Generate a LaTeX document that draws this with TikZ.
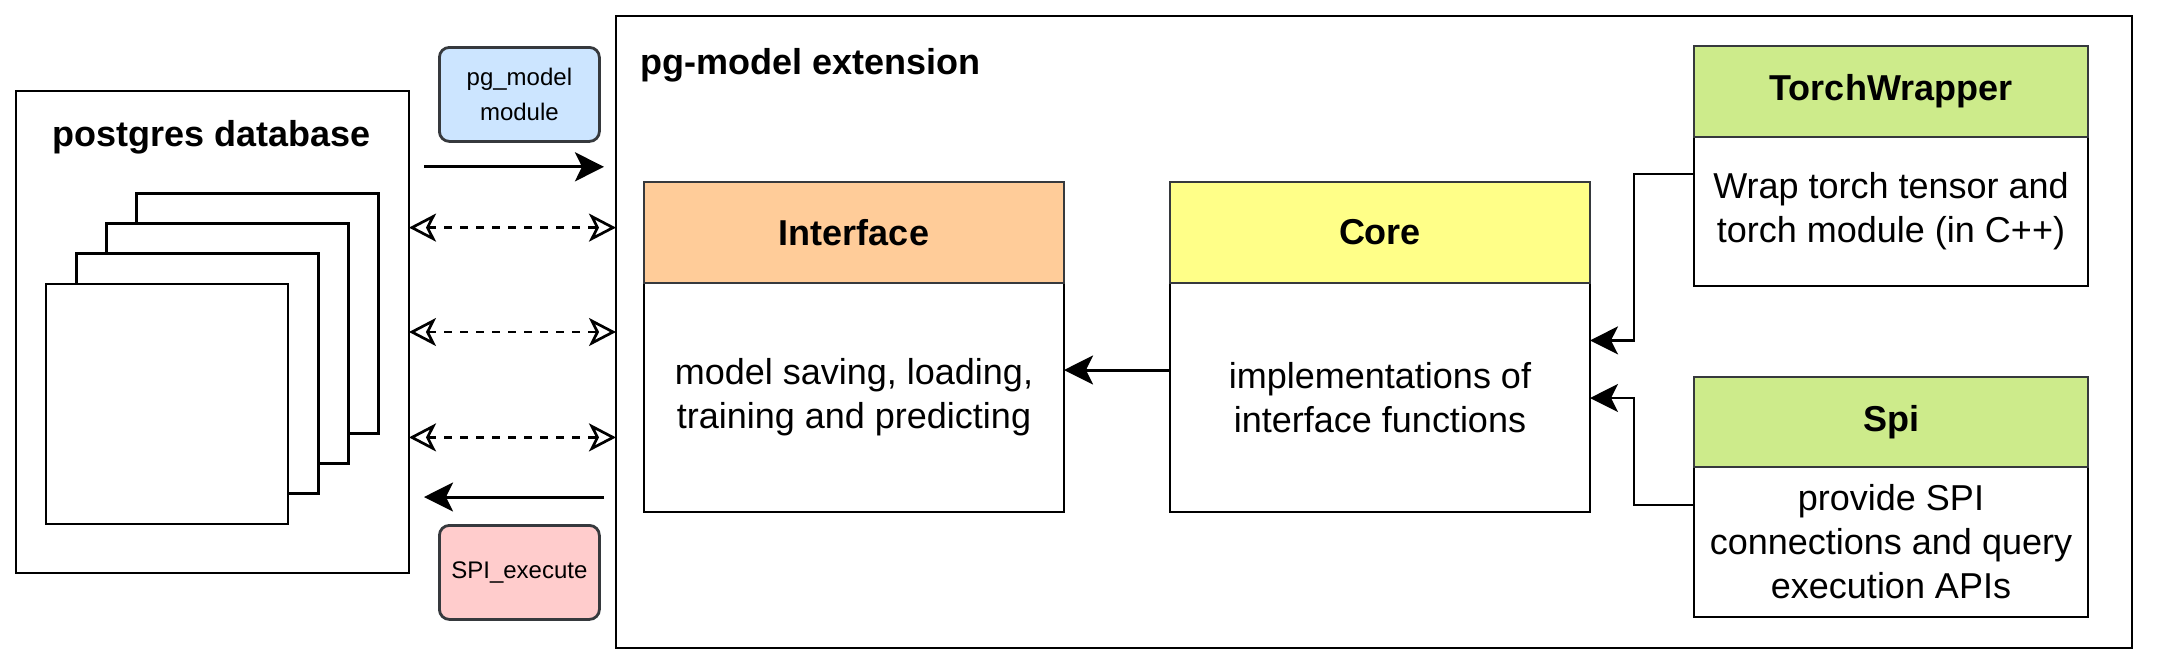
\documentclass[tikz,border=0pt]{standalone}
\usepackage{fontspec}
\setmainfont{Liberation Sans}
\usetikzlibrary{arrows.meta,calc}
\definecolor{hdrstroke}{HTML}{36393D}
\definecolor{orangefill}{HTML}{FFCC99}
\definecolor{yellowfill}{HTML}{FFFF88}
\definecolor{greenfill}{HTML}{CDEB8B}
\definecolor{bluefill}{HTML}{CCE5FF}
\definecolor{redfill}{HTML}{FFCCCC}
\begin{document}
\begin{tikzpicture}[x=1pt,y=-1pt,
  box/.style={draw=black, line width=1.4pt, fill=white, inner sep=0pt, outer sep=0pt, anchor=north west},
  hdr/.style={draw=hdrstroke, line width=1.4pt, inner sep=0pt, outer sep=0pt, anchor=north west, font=\fontsize{18}{21.6}\selectfont\bfseries},
  titletext/.style={font=\fontsize{18}{21.6}\selectfont\bfseries},
  bodytext/.style={font=\fontsize{18}{22}\selectfont, align=center, inner sep=0pt},
  pill/.style={draw=hdrstroke, line width=1.4pt, rounded corners=5pt, inner sep=0pt, anchor=north west, align=center, font=\fontsize{12}{17.5}\selectfont, minimum width=80pt, minimum height=47pt},
  arr/.style={line width=1.5pt, -{Stealth[length=14.5pt,width=14.5pt,inset=3.5pt]}},
  darr/.style={line width=1.35pt, dash pattern=on 4pt off 4pt, {Stealth[open,length=13.5pt,width=14pt,inset=3.5pt]}-{Stealth[open,length=13.5pt,width=14pt,inset=3.5pt]}},
  elbow/.style={line width=1.1pt, -{Stealth[length=14pt,width=14pt,inset=3.5pt]}}
]
\useasboundingbox (0,0) rectangle (1080,333);

% outer extension box
\node[box, minimum width=758pt, minimum height=316pt] (ext) at (308,8) {};
\node[titletext, anchor=base west, inner sep=0pt] (exttitle) at (320,37.2) {pg-model extension};

% postgres database
\node[box, minimum width=196.5pt, minimum height=241pt] (pg) at (8,45.5) {};
\node[titletext, anchor=base, inner sep=0pt] (pgtitle) at (106,73.4) {postgres database};
\foreach \k/\nm in {3/sqd,2/sqc,1/sqb,0/sqa}
  \node[box, minimum width=121pt, minimum height=120pt] (\nm) at ({23+15.1*\k},{142-15.1*\k}) {};

% labels
\node[pill, fill=bluefill] (pgm) at (219,23) {pg\_model\\module};
\node[pill, fill=redfill] (spix) at (219,262) {SPI\_execute};

% arrows between database and extension
\coordinate (a1s) at (212,83.4);
\coordinate (a1e) at (302,83.4);
\draw[arr] (a1s) -- (a1e);
\coordinate (a2s) at (302,248.5);
\coordinate (a2e) at (212,248.5);
\draw[arr] (a2s) -- (a2e);
\coordinate (d1) at (0,113.8);
\coordinate (d2) at (0,166);
\coordinate (d3) at (0,218.7);
\draw[darr] (pg.east |- d1) -- (ext.west |- d1);
\draw[darr] (pg.east |- d2) -- (ext.west |- d2);
\draw[darr] (pg.east |- d3) -- (ext.west |- d3);

% Interface
\node[box, minimum width=210pt, minimum height=165pt] (ifb) at (322,91) {};
\node[hdr, fill=orangefill, minimum width=210pt, minimum height=50.5pt] (ifh) at (322,91) {Interface};
\node[bodytext] (ift) at ($(ifh.south)!0.5!(ifb.south)$) {model saving, loading,\\training and predicting};

% Core
\node[box, minimum width=210pt, minimum height=165pt] (cob) at (585,91) {};
\node[hdr, fill=yellowfill, minimum width=210pt, minimum height=50.5pt] (coh) at (585,91) {Core};
\node[bodytext] (cot) at ($(coh.south)!0.5!(cob.south)$) {implementations of\\interface functions};

% TorchWrapper
\node[box, minimum width=197pt, minimum height=120pt] (twb) at (847,23) {};
\node[hdr, fill=greenfill, minimum width=197pt, minimum height=45.5pt] (twh) at (847,23) {TorchWrapper};
\node[bodytext] (twt) at ($(twh.south)!0.5!(twb.south)$) {Wrap torch tensor and\\torch module (in C++)};

% Spi
\node[box, minimum width=197pt, minimum height=120pt] (spb) at (847,188.5) {};
\node[hdr, fill=greenfill, minimum width=197pt, minimum height=45pt] (sph) at (847,188.5) {Spi};
\node[bodytext] (spt) at ($(sph.south)!0.5!(spb.south)$) {provide SPI\\connections and query\\execution APIs};

% connectors
\coordinate (c2i) at (0,185);
\draw[arr] (cob.west |- c2i) -- (ifb.east |- c2i);
\coordinate (elx) at (817,0);
\coordinate (twy) at (0,86.8);
\coordinate (tcy) at (0,170.2);
\coordinate (spy) at (0,252.3);
\coordinate (scy) at (0,199);
\draw[elbow] (twb.west |- twy) -| (elx |- tcy) -- (cob.east |- tcy);
\draw[elbow] (spb.west |- spy) -| (elx |- scy) -- (cob.east |- scy);
\end{tikzpicture}
\end{document}
